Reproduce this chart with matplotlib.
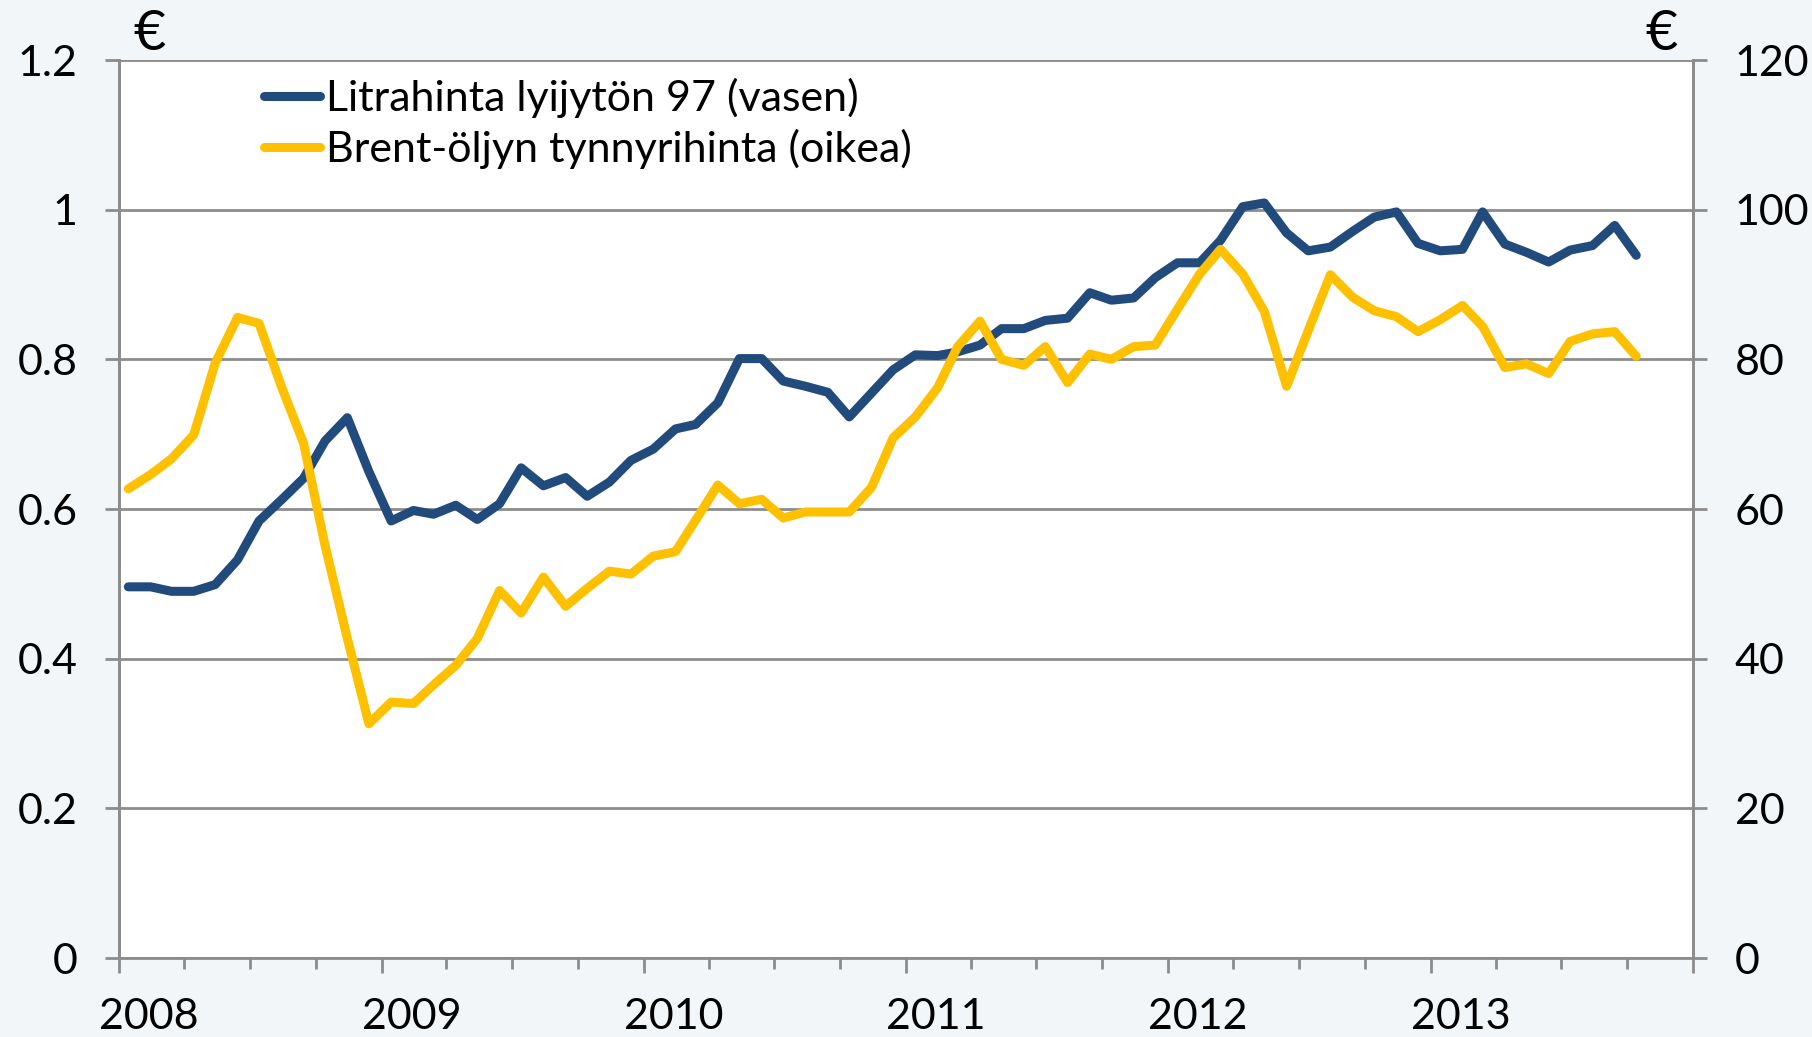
import numpy as np
import pandas as pd
import matplotlib
matplotlib.use("Agg")
import matplotlib.pyplot as plt
import matplotlib.dates as mdates
import matplotlib.transforms as mtransforms

plt.rcParams['font.family'] = ['Lato', 'DejaVu Sans']

# monthly data, Jan 2008 - Oct 2013 (plotted mid-month)
months = pd.date_range("2008-01-01", periods=70, freq="MS") + pd.Timedelta(days=13)

# litrahinta lyijytön 97 (€/l, left axis)
petrol = [0.496, 0.496, 0.490, 0.490, 0.499, 0.532, 0.584, 0.612, 0.641, 0.691,
          0.722, 0.650, 0.584, 0.598, 0.593, 0.605, 0.586, 0.607, 0.655, 0.631,
          0.642, 0.617, 0.636, 0.665, 0.680, 0.707, 0.713, 0.742, 0.801, 0.801,
          0.771, 0.764, 0.756, 0.723, 0.755, 0.786, 0.806, 0.805, 0.810, 0.819,
          0.841, 0.841, 0.852, 0.855, 0.889, 0.879, 0.882, 0.909, 0.929, 0.929,
          0.959, 1.004, 1.009, 0.969, 0.945, 0.950, 0.971, 0.990, 0.997, 0.955,
          0.945, 0.947, 0.997, 0.954, 0.943, 0.930, 0.946, 0.952, 0.979, 0.939]

# Brent-öljyn tynnyrihinta (€/barrel, right axis)
brent = [62.7, 64.6, 66.7, 69.9, 79.5, 85.6, 84.8, 76.4, 68.8, 55.1,
         42.7, 31.3, 34.2, 34.0, 36.5, 39.1, 42.7, 49.1, 46.1, 50.9,
         47.0, 49.4, 51.7, 51.3, 53.7, 54.3, 58.5, 63.2, 60.7, 61.3,
         58.8, 59.6, 59.6, 59.6, 62.9, 69.5, 72.3, 76.2, 81.7, 85.1,
         80.0, 79.2, 81.7, 76.9, 80.7, 80.0, 81.7, 81.9, 86.7, 91.4,
         94.7, 91.4, 86.4, 76.4, 83.8, 91.3, 88.3, 86.5, 85.7, 83.7,
         85.3, 87.2, 84.4, 78.9, 79.4, 78.1, 82.4, 83.4, 83.7, 80.4]

left_ticks = [0, 0.2, 0.4, 0.6, 0.8, 1, 1.2]
left_labels = ["0", "0.2", "0.4", "0.6", "0.8", "1", "1.2"]
right_ticks = [0, 20, 40, 60, 80, 100, 120]
years = [2008, 2009, 2010, 2011, 2012, 2013, 2014]
year_labels = ["2008", "2009", "2010", "2011", "2012", "2013", ""]

BLUE = "#214a7d"
YELLOW = "#ffc000"
GRID = "#8c8c8c"
FS = 31

fig = plt.figure(figsize=(18.12, 10.37), dpi=100, facecolor="#f3f6f8")
ax = fig.add_axes([119/1812, 1 - 958/1037, (1693-119)/1812, (958-60)/1037])
ax.set_facecolor("white")
ax2 = ax.twinx()

l1, = ax.plot(months, petrol, color=BLUE, lw=6.5, solid_joinstyle="round",
              solid_capstyle="round", label="Litrahinta lyijytön 97 (vasen)", zorder=4)
l2, = ax2.plot(months, brent, color=YELLOW, lw=6.5, solid_joinstyle="round",
               solid_capstyle="round", label="Brent-öljyn tynnyrihinta (oikea)")

ax.set_ylim(0, 1.2)
ax2.set_ylim(0, 120)
ax.set_xlim(pd.Timestamp("2008-01-01"), pd.Timestamp("2014-01-01"))

ax.set_yticks(left_ticks)
ax.set_yticklabels(left_labels)
ax2.set_yticks(right_ticks)

ax.set_xticks([pd.Timestamp(f"{y}-01-01") for y in years])
ax.set_xticklabels(year_labels)
ax.xaxis.set_minor_locator(mdates.MonthLocator(bymonth=[4, 7, 10]))

ax.grid(axis="y", color=GRID, lw=2, zorder=0)
ax.set_axisbelow(True)

for a in (ax, ax2):
    for s in a.spines.values():
        s.set_color(GRID)
        s.set_linewidth(2)
    a.spines["top"].set_visible(False)
ax2.spines["bottom"].set_visible(False)

ax.tick_params(axis="y", direction="out", length=10, width=2, color=GRID,
               labelsize=FS, pad=20)
ax2.tick_params(axis="y", direction="out", length=10, width=2, color=GRID,
                labelsize=FS, pad=20)
ax.tick_params(axis="x", which="major", direction="out", length=11, width=2,
               color=GRID, labelsize=FS, pad=18)
ax.tick_params(axis="x", which="minor", direction="out", length=8, width=2,
               color=GRID)

# year labels sit a bit right of the year tick
offset = mtransforms.ScaledTranslation(0.30, 0, fig.dpi_scale_trans)
for lab in ax.get_xticklabels():
    lab.set_transform(lab.get_transform() + offset)

ax.legend(handles=[l1, l2], loc="upper left", frameon=False, fontsize=FS,
          bbox_to_anchor=(264/1812, 1 - 78/1037), bbox_transform=fig.transFigure,
          handlelength=1.3, handletextpad=0.15, labelspacing=0.25, borderpad=0,
          borderaxespad=0)

fig.text(149/1812, 1 - 35/1037, "€", fontsize=40, ha="center", va="center")
fig.text(1662/1812, 1 - 35/1037, "€", fontsize=40, ha="center", va="center")

fig.savefig("out.png", dpi=100, facecolor=fig.get_facecolor())
